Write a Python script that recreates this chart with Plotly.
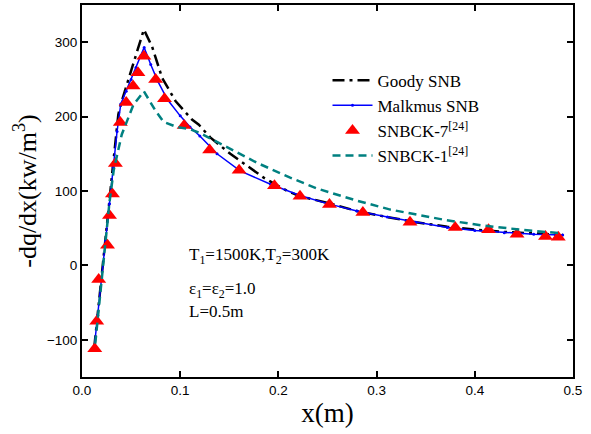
import plotly.graph_objects as go

# Goody SNB model (dash-dot)
goody_x = [0.0125, 0.016, 0.020, 0.024, 0.028, 0.032, 0.037, 0.0405, 0.0507, 0.063,
           0.0714, 0.0816, 0.0952, 0.112, 0.119, 0.1306, 0.151, 0.168, 0.185, 0.209,
           0.222, 0.253, 0.280, 0.311, 0.340, 0.372, 0.400, 0.430, 0.460, 0.4895]
goody_y = [-110, -67, -15, 37, 88, 140, 203, 221, 265, 317,
           294, 252, 221, 196, 189, 172, 150, 134, 118, 100,
           93, 83, 73, 65, 58, 52, 48, 45, 43, 41]

# Malkmus SNB model (solid with small dots)
malk_x = [0.0125, 0.016, 0.020, 0.024, 0.028, 0.032, 0.0357, 0.0395, 0.045, 0.050,
          0.055, 0.060, 0.0633, 0.070, 0.077, 0.0870, 0.100, 0.110, 0.120, 0.1375,
          0.161, 0.192, 0.222, 0.250, 0.280, 0.311, 0.340, 0.372, 0.400, 0.430,
          0.460, 0.4895]
malk_y = [-110, -67, -17, 33, 83, 132, 180, 217, 234, 250,
          266, 282, 293, 270, 248, 223, 201, 186, 174, 150,
          127, 109, 94, 83, 73, 65, 58, 51, 47, 44,
          42, 41]

# SNBCK-7 reference results (triangles)
ck7_x = [0.013, 0.015, 0.017, 0.026, 0.028, 0.031, 0.034, 0.039, 0.045, 0.052,
         0.057, 0.063, 0.075, 0.084, 0.104, 0.130, 0.160, 0.196, 0.222, 0.252,
         0.286, 0.334, 0.380, 0.414, 0.443, 0.472, 0.485]
ck7_y = [-112, -75, -19, 27, 67, 96, 137, 192, 219, 241,
         259, 281, 250, 224, 188, 155, 128, 107, 93, 82,
         71, 58, 51, 48, 42, 39, 38]

# SNBCK-1 reference results (dashed)
ck1_x = [0.0135, 0.017, 0.020, 0.024, 0.028, 0.0323, 0.0354, 0.0405, 0.0524, 0.063,
         0.0748, 0.083, 0.0966, 0.110, 0.120, 0.144, 0.178, 0.212, 0.240, 0.280,
         0.314, 0.338, 0.370, 0.406, 0.440, 0.488]
ck1_y = [-105, -60, -20, 33, 85, 128, 148, 176, 216, 234,
         208, 193, 186, 183, 178, 161, 138, 118, 103, 87,
         75, 69, 61, 54, 49, 43]

x_ticks = [0.0, 0.1, 0.2, 0.3, 0.4, 0.5]
y_ticks = [-100, 0, 100, 200, 300]

serif = "Liberation Serif"
sans = "Liberation Sans"

fig = go.Figure()
fig.add_trace(go.Scatter(
    x=goody_x, y=goody_y, mode="lines", name="Goody SNB",
    line=dict(color="black", width=2.5, dash="12px,5px,3px,5px"),
))
fig.add_trace(go.Scatter(
    x=malk_x, y=malk_y, mode="lines+markers", name="Malkmus SNB",
    line=dict(color="#0000ff", width=1.5),
    marker=dict(size=3, color="#0000ff"),
))
fig.add_trace(go.Scatter(
    x=ck7_x, y=ck7_y, mode="markers", name="SNBCK-7<sup>[24]</sup>",
    marker=dict(symbol="triangle-up", size=13, color="#ff0000", line=dict(width=0)),
))
fig.add_trace(go.Scatter(
    x=ck1_x, y=ck1_y, mode="lines", name="SNBCK-1<sup>[24]</sup>",
    line=dict(color="#008080", width=2.5, dash="8px,5px"),
))

axis_common = dict(
    showline=True, linecolor="black", linewidth=2, mirror="ticks",
    ticks="inside", ticklen=6, tickwidth=1.5, tickcolor="black",
    showgrid=False, zeroline=False,
    tickfont=dict(family=sans, size=13.5, color="black"),
)

fig.update_layout(
    width=591, height=434,
    margin=dict(l=82, r=18, t=3, b=57),
    paper_bgcolor="white", plot_bgcolor="white",
    showlegend=True,
    legend=dict(
        x=0.5, y=0.845, xanchor="left", yanchor="top",
        bgcolor="rgba(0,0,0,0)", borderwidth=0,
        font=dict(family=serif, size=17, color="black"),
        itemwidth=40,
    ),
    xaxis=dict(
        range=[0, 0.5], tickvals=x_ticks,
        ticktext=[f"{v:.1f}" for v in x_ticks],
        title=dict(text="x(m)", font=dict(family=serif, size=27, color="black"), standoff=6),
        **axis_common,
    ),
    yaxis=dict(
        range=[-150, 350], tickvals=y_ticks,
        title=dict(text="-dq/dx(kw/m<sup>3</sup>)", font=dict(family=serif, size=26, color="black"), standoff=3),
        **axis_common,
    ),
)

notes = [
    ("T<sub>1</sub>=1500K,T<sub>2</sub>=300K", 0.326),
    ("ε<sub>1</sub>=ε<sub>2</sub>=1.0", 0.233),
    ("L=0.5m", 0.176),
]
for txt, yy in notes:
    fig.add_annotation(
        text=txt, x=0.107, y=yy, xref="x", yref="paper",
        xanchor="left", yanchor="middle", showarrow=False,
        font=dict(family=serif, size=17, color="black"),
    )

fig.write_html("out.html")
